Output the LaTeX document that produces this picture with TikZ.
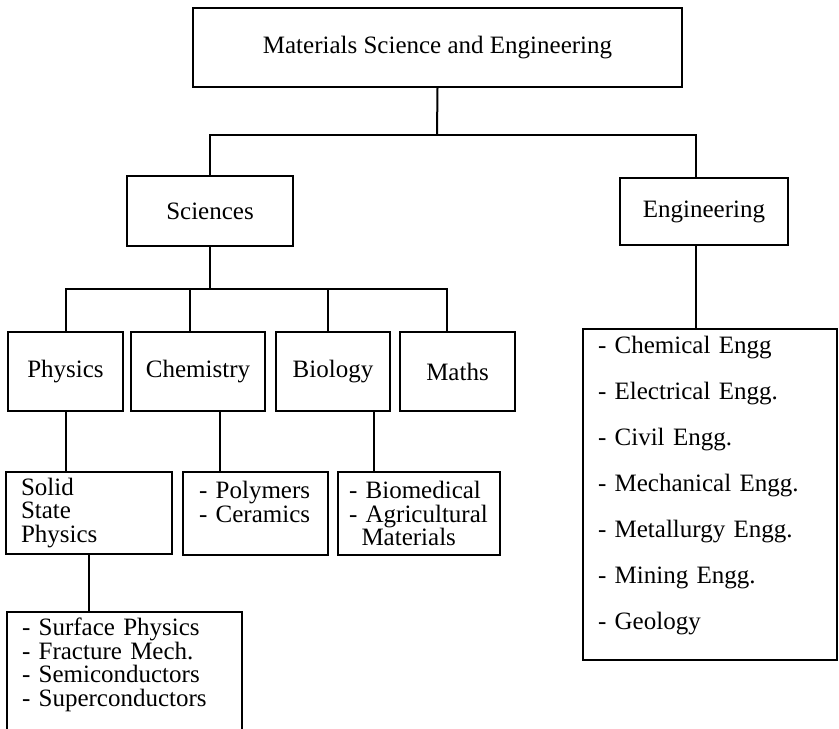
\documentclass[tikz,border=0pt]{standalone}
\usepackage{fontspec}
\setmainfont{Liberation Serif}
\usetikzlibrary{calc}

\tikzset{
  box/.style={draw, line width=2pt, inner sep=0pt, align=center,
    font=\fontsize{25}{30}\selectfont},
  listbox/.style={box, align=left, inner xsep=15pt,
    font=\fontsize{25}{23.5}\selectfont},
  link/.style={line width=2pt}
}

\begin{document}
\begin{tikzpicture}[x=1pt, y=-1pt]
  \useasboundingbox (0,0) rectangle (839,729);
  \clip (0,0) rectangle (839,729);

  % top levels
  \node[box, minimum width=489pt, minimum height=79pt] (mse) at (437.5,47.5) {Materials Science and Engineering};
  \node[box, minimum width=166pt, minimum height=70pt] (sci) at (210,211) {Sciences};
  \node[box, minimum width=168pt, minimum height=67pt] (eng) at (704,211.5) {Engineering};

  % sciences
  \node[box, minimum width=115pt, minimum height=79pt] (phy) at (65.5,371.5) {Physics};
  \node[box, minimum width=134pt, minimum height=79pt] (chem) at (198,371.5) {Chemistry};
  \node[box, minimum width=114pt, minimum height=79pt] (bio) at (333,371.5) {Biology};
  \node[box, minimum width=115pt, minimum height=79pt] (mat) at (457.5,371.5) {Maths};

  % branches
  \node[listbox, text width=136pt, minimum height=82pt] (ssp) at (89,513) {Solid\\State\\Physics};
  \node[listbox, text width=113pt, inner xsep=16pt, minimum height=83pt] (poly) at (255.5,513.5) {- Polymers\\- Ceramics\\\mbox{}};
  \node[listbox, text width=140pt, inner xsep=11pt, minimum height=83pt] (bmed) at (419,513.5) {- Biomedical\\- Agricultural\\\hspace*{0.5em}Materials};
  \node[listbox, text width=205pt, inner ysep=6pt, anchor=north west] (sub) at (6,611) {- Surface Physics\\- Fracture Mech.\\- Semiconductors\\- Superconductors\\\mbox{}};
  \node[listbox, text width=224pt, minimum height=331pt, anchor=north west,
    font=\fontsize{25}{46}\selectfont] (engl) at (582,328)
    {- Chemical Engg\\- Electrical Engg.\\- Civil Engg.\\- Mechanical Engg.\\- Metallurgy Engg.\\- Mining Engg.\\- Geology\\[-22pt]\mbox{}};

  % connectors
  \coordinate (b1) at (437,135);
  \coordinate (b2) at (207,289);
  \coordinate (e1) at ($(eng.north west)!.45!(eng.north east)$);
  \coordinate (m1) at ($(mat.north west)!.41!(mat.north east)$);
  \coordinate (c1) at ($(chem.north west)!.44!(chem.north east)$);
  \coordinate (o1) at ($(bio.north west)!.46!(bio.north east)$);
  \coordinate (c2) at ($(chem.south west)!.66!(chem.south east)$);
  \coordinate (o2) at ($(bio.south west)!.85!(bio.south east)$);

  \draw[link] (mse.south) -- (b1);
  \draw[link] (sci.north) |- (b1) -| (e1);
  \draw[link] (sci.south) -- (sci.south |- b2);
  \draw[link] (phy.north) |- (b2) -| (m1);
  \draw[link] (c1) -- (c1 |- b2);
  \draw[link] (o1) -- (o1 |- b2);
  \draw[link] (phy.south) -- (phy.south |- ssp.north);
  \draw[link] (c2) -- (c2 |- poly.north);
  \draw[link] (o2) -- (o2 |- bmed.north);
  \draw[link] (ssp.south) -- (ssp.south |- sub.north);
  \draw[link] (e1 |- eng.south) -- (e1 |- engl.north);
\end{tikzpicture}
\end{document}
